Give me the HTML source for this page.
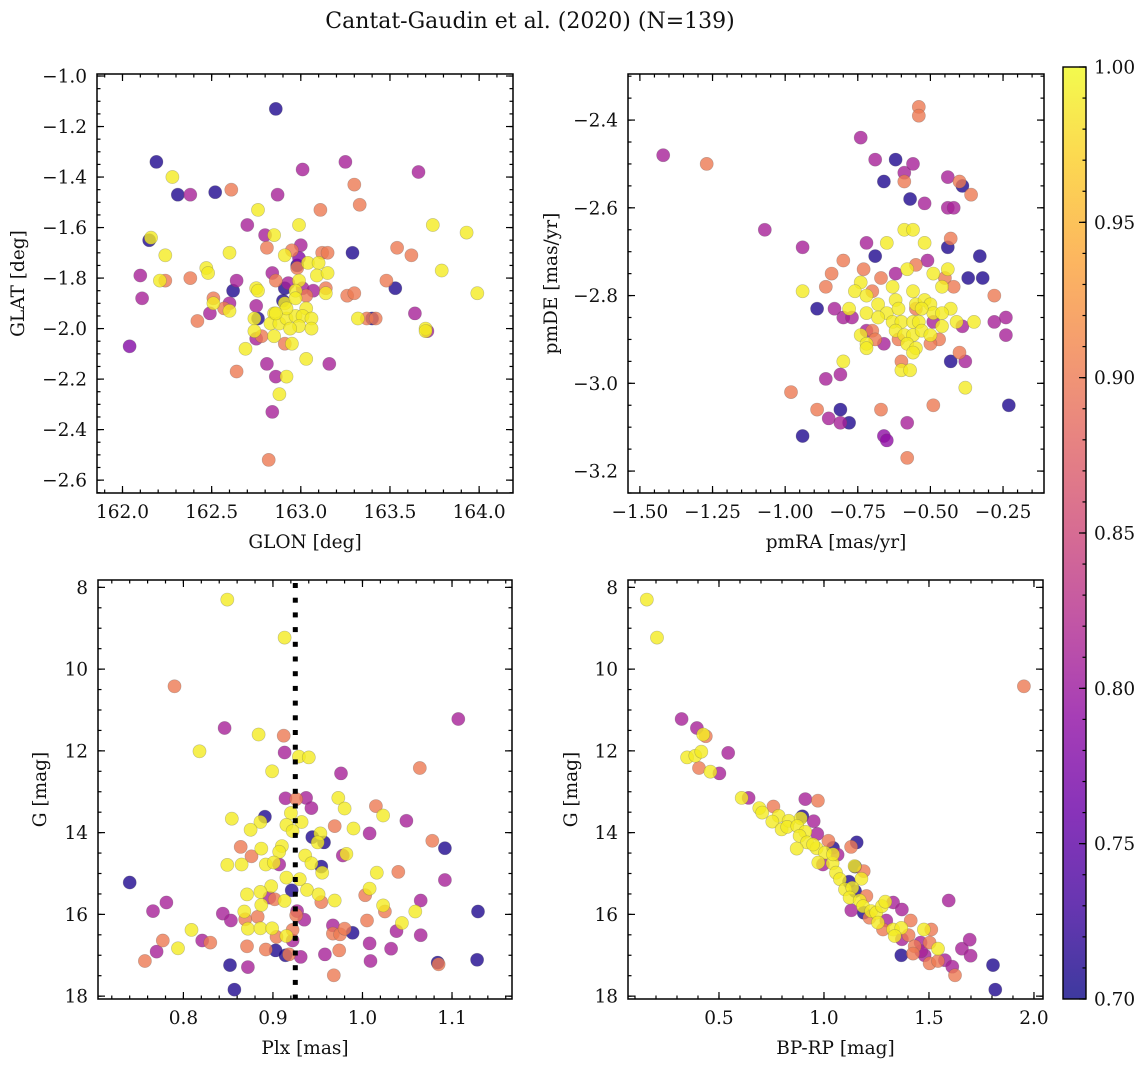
<!DOCTYPE html>
<html><head><meta charset="utf-8"><style>
html,body{margin:0;padding:0;background:#fff;}
svg text{font-family:"DejaVu Serif","Liberation Serif",serif;fill:#111;}
</style></head><body>
<svg id="fig" width="1148" height="1067" viewBox="0 0 1148 1067" xmlns="http://www.w3.org/2000/svg">
<defs>
<linearGradient id="plasma" x1="0" y1="1" x2="0" y2="0">
<stop offset="0" stop-color="#0d0887"/><stop offset="0.1" stop-color="#41049d"/><stop offset="0.2" stop-color="#6a00a8"/><stop offset="0.3" stop-color="#8f0da4"/><stop offset="0.4" stop-color="#b12a90"/><stop offset="0.5" stop-color="#cc4778"/><stop offset="0.6" stop-color="#e16462"/><stop offset="0.7" stop-color="#f2844b"/><stop offset="0.8" stop-color="#fca636"/><stop offset="0.9" stop-color="#fcce25"/><stop offset="1" stop-color="#f0f921"/>
</linearGradient>
</defs>
<text x="530" y="28" text-anchor="middle" font-size="22">Cantat-Gaudin et al. (2020) (N=139)</text>
</svg>
<script>
// ---- data: panel 1 (GLON vs GLAT)
const glon=[162.86,162.19,162.28,162.31,162.38,162.52,162.61,162.87,163.01,163.25,163.66,163.30,163.33,163.11,162.76,162.70,162.99,163.74,163.93,162.15,162.16,162.80,162.85,162.81,163.00,162.95,162.91,162.99,162.98,162.24,162.60,163.29,163.54,163.62,163.12,163.15,163.04,163.10,162.98,162.10,162.47,162.48,162.24,162.21,162.38,162.64,162.84,162.86,163.09,163.15,163.79,163.48,163.53,162.11,162.62,162.75,162.76,162.91,162.93,162.99,162.97,163.01,163.07,163.14,163.14,163.26,163.30,163.99,162.51,162.51,162.60,162.57,162.60,162.75,162.90,162.91,163.03,163.03,162.97,162.49,162.42,162.85,162.76,162.74,162.83,162.88,162.92,162.97,163.01,163.06,162.99,163.06,162.94,163.32,163.37,163.40,163.42,163.64,163.70,163.71,163.70,162.74,162.78,162.75,162.85,162.91,162.95,162.69,163.03,162.81,163.16,162.04,162.64,162.86,162.92,162.88,162.84,162.82,162.92,162.86];
const glat=[-1.13,-1.34,-1.40,-1.47,-1.47,-1.46,-1.45,-1.47,-1.37,-1.34,-1.38,-1.43,-1.51,-1.53,-1.53,-1.59,-1.59,-1.59,-1.62,-1.65,-1.64,-1.63,-1.63,-1.68,-1.67,-1.69,-1.71,-1.72,-1.75,-1.71,-1.70,-1.70,-1.68,-1.71,-1.70,-1.70,-1.74,-1.74,-1.76,-1.79,-1.76,-1.78,-1.81,-1.81,-1.80,-1.81,-1.78,-1.81,-1.79,-1.78,-1.77,-1.81,-1.84,-1.88,-1.85,-1.84,-1.85,-1.84,-1.82,-1.81,-1.85,-1.84,-1.85,-1.84,-1.86,-1.87,-1.86,-1.86,-1.88,-1.90,-1.90,-1.92,-1.93,-1.91,-1.89,-1.90,-1.87,-1.92,-1.88,-1.94,-1.97,-1.94,-1.96,-1.96,-1.98,-1.98,-1.96,-1.95,-1.95,-1.96,-1.99,-2.00,-2.00,-1.96,-1.96,-1.96,-1.96,-1.94,-2.00,-2.01,-2.01,-2.01,-2.03,-2.04,-2.03,-2.06,-2.06,-2.08,-2.12,-2.14,-2.14,-2.07,-2.17,-2.19,-2.19,-2.26,-2.33,-2.52,-1.92,-1.94];
const prob1=[.71,.71,.99,.71,.81,.71,.90,.81,.81,.81,.81,.90,.90,.90,.99,.81,.99,.99,.99,.71,.99,.81,.99,.90,.81,.90,.99,.78,.71,.99,.99,.71,.90,.90,.90,.90,.99,.99,.90,.81,.99,.99,.90,.99,.90,.81,.81,.90,.99,.99,.99,.90,.71,.81,.71,.99,.99,.71,.81,.99,.99,.81,.81,.90,.99,.90,.90,.99,.90,.99,.81,.90,.99,.81,.71,.99,.90,.99,.99,.81,.90,.99,.71,.99,.99,.99,.99,.99,.99,.99,.99,.99,.99,.99,.90,.71,.90,.81,.99,.81,.99,.99,.90,.81,.99,.90,.99,.99,.99,.81,.81,.78,.90,.81,.99,.99,.81,.90,.99,.99];
// ---- data: panel 2 (pmRA vs pmDE)
const pmra=[-1.42,-1.27,-1.07,-0.94,-0.74,-0.69,-0.62,-0.59,-0.56,-0.54,-0.54,-0.59,-0.66,-0.57,-0.52,-0.44,-0.40,-0.39,-0.36,-0.44,-0.42,-0.59,-0.56,-0.65,-0.52,-0.72,-0.69,-0.80,-0.43,-0.44,-0.33,-0.51,-0.55,-0.58,-0.62,-0.73,-0.84,-0.86,-0.67,-0.74,-0.70,-0.76,-0.72,-0.63,-0.56,-0.49,-0.44,-0.45,-0.46,-0.42,-0.37,-0.32,-0.28,-0.94,-0.89,-0.83,-0.80,-0.77,-0.78,-0.72,-0.68,-0.65,-0.62,-0.55,-0.52,-0.50,-0.49,-0.43,-0.46,-0.68,-0.63,-0.60,-0.55,-0.56,-0.54,-0.49,-0.39,-0.41,-0.35,-0.28,-0.24,-0.24,-0.74,-0.72,-0.70,-0.62,-0.59,-0.56,-0.53,-0.46,-0.47,-0.50,-0.50,-0.72,-0.69,-0.66,-0.61,-0.58,-0.55,-0.56,-0.72,-0.80,-0.60,-0.60,-0.57,-0.43,-0.40,-0.38,-0.86,-0.81,-0.98,-0.38,-0.49,-0.89,-0.81,-0.85,-0.81,-0.78,-0.67,-0.58,-0.66,-0.65,-0.94,-0.58,-0.23,-0.61,-0.53];
const pmde=[-2.48,-2.50,-2.65,-2.69,-2.44,-2.49,-2.49,-2.52,-2.50,-2.37,-2.39,-2.54,-2.54,-2.58,-2.59,-2.53,-2.54,-2.55,-2.57,-2.60,-2.60,-2.65,-2.65,-2.68,-2.68,-2.68,-2.71,-2.72,-2.67,-2.69,-2.71,-2.72,-2.73,-2.74,-2.75,-2.74,-2.75,-2.78,-2.76,-2.77,-2.79,-2.79,-2.80,-2.78,-2.79,-2.75,-2.74,-2.76,-2.78,-2.78,-2.76,-2.76,-2.80,-2.79,-2.83,-2.83,-2.85,-2.85,-2.83,-2.84,-2.82,-2.84,-2.81,-2.82,-2.81,-2.82,-2.84,-2.83,-2.84,-2.85,-2.86,-2.86,-2.83,-2.86,-2.86,-2.86,-2.87,-2.86,-2.86,-2.86,-2.85,-2.89,-2.89,-2.88,-2.88,-2.88,-2.89,-2.89,-2.88,-2.87,-2.90,-2.91,-2.89,-2.91,-2.90,-2.91,-2.90,-2.91,-2.92,-2.93,-2.92,-2.95,-2.95,-2.97,-2.97,-2.95,-2.93,-2.95,-2.99,-2.98,-3.02,-3.01,-3.05,-3.06,-3.06,-3.08,-3.09,-3.09,-3.06,-3.09,-3.12,-3.13,-3.12,-3.17,-3.05,-2.83,-2.83];
const prob2=[.81,.90,.81,.81,.81,.81,.71,.81,.81,.90,.90,.90,.71,.71,.81,.81,.90,.71,.90,.81,.81,.99,.99,.99,.99,.81,.71,.90,.90,.71,.71,.81,.90,.99,.81,.90,.90,.90,.90,.99,.90,.99,.99,.99,.99,.99,.99,.90,.99,.90,.71,.71,.90,.99,.71,.81,.81,.81,.99,.99,.99,.99,.99,.99,.99,.99,.99,.99,.99,.99,.99,.99,.90,.99,.99,.81,.81,.99,.99,.81,.81,.81,.99,.81,.90,.99,.99,.99,.99,.99,.90,.90,.99,.99,.90,.81,.90,.99,.99,.99,.99,.99,.90,.99,.99,.71,.90,.81,.81,.81,.90,.99,.90,.90,.71,.81,.81,.71,.90,.81,.79,.79,.71,.90,.71,.99,.99];
// ---- data: panel 3 (Plx vs G)
const plx=[0.849,0.913,0.790,1.107,0.846,0.884,0.912,0.818,0.913,0.929,0.940,0.899,0.976,1.064,0.914,0.926,0.937,0.943,0.973,0.980,1.015,1.023,1.049,0.854,0.891,0.886,0.875,0.920,0.915,0.932,0.922,0.969,0.990,1.008,0.944,0.953,0.957,0.950,1.078,1.092,0.864,0.887,0.910,0.907,0.876,0.936,0.978,0.982,0.849,0.865,0.892,0.901,0.907,0.943,0.954,0.955,1.016,1.040,1.092,0.740,0.915,0.930,0.898,0.886,0.871,0.896,0.902,0.913,0.921,0.938,0.951,0.954,0.969,1.003,1.008,1.023,1.025,1.065,0.781,0.766,0.887,0.868,0.844,0.853,0.869,0.883,0.927,0.926,0.935,1.059,1.129,1.044,1.005,1.038,0.809,0.872,0.886,0.899,0.922,0.915,0.904,0.922,0.967,0.967,0.975,0.980,0.989,1.065,0.777,0.821,0.830,0.794,0.770,0.757,0.871,0.892,0.903,0.914,0.918,0.931,0.958,0.974,1.008,1.032,1.009,1.084,1.085,1.128,0.852,0.872,0.968,0.857];
const gmag3=[8.30,9.23,10.42,11.22,11.44,11.60,11.63,12.01,12.04,12.14,12.16,12.50,12.55,12.42,13.16,13.18,13.15,13.40,13.15,13.41,13.35,13.58,13.71,13.66,13.61,13.74,13.93,13.52,13.81,13.74,13.96,13.84,13.90,14.02,14.11,14.02,14.24,14.24,14.20,14.38,14.35,14.39,14.33,14.47,14.58,14.56,14.56,14.52,14.79,14.78,14.78,14.73,14.78,14.75,14.83,14.98,14.98,14.96,15.16,15.22,15.10,15.14,15.31,15.45,15.51,15.59,15.63,15.67,15.41,15.40,15.51,15.70,15.66,15.53,15.37,15.78,15.93,15.66,15.71,15.92,15.77,15.93,15.98,16.15,16.12,16.06,15.92,16.02,16.13,15.93,15.93,16.21,16.15,16.41,16.38,16.35,16.34,16.34,16.38,16.53,16.55,16.64,16.27,16.47,16.49,16.35,16.45,16.51,16.64,16.64,16.69,16.83,16.91,17.14,16.78,16.86,16.88,17.00,16.98,17.04,16.98,16.88,16.71,16.84,17.14,17.18,17.22,17.11,17.24,17.29,17.49,17.84];
const prob3=[.99,.99,.90,.81,.81,.99,.90,.99,.81,.99,.99,.99,.81,.90,.81,.90,.81,.81,.99,.99,.90,.99,.81,.99,.71,.99,.99,.99,.99,.99,.99,.90,.99,.81,.71,.99,.71,.99,.90,.71,.90,.99,.99,.99,.90,.99,.81,.99,.99,.99,.99,.99,.81,.99,.71,.99,.99,.90,.81,.71,.99,.99,.99,.99,.99,.81,.90,.99,.71,.99,.99,.90,.99,.90,.99,.99,.90,.81,.81,.81,.99,.99,.81,.81,.90,.90,.81,.90,.81,.99,.71,.99,.90,.81,.99,.99,.99,.99,.90,.99,.90,.81,.81,.90,.90,.90,.71,.81,.90,.81,.90,.99,.81,.90,.90,.90,.71,.71,.90,.81,.81,.90,.81,.81,.81,.71,.90,.71,.71,.81,.90,.71];
// ---- data: panel 4 (BP-RP vs G)
const bprp=[0.156,0.205,1.952,0.322,0.395,0.437,0.425,0.544,0.348,0.387,0.416,0.405,0.459,0.502,0.608,0.641,0.911,0.971,0.692,0.706,0.759,0.784,0.754,0.798,0.832,0.825,0.897,0.889,0.951,0.873,0.911,0.968,0.884,0.919,0.870,0.965,1.021,1.043,1.005,1.065,1.129,1.156,0.973,0.995,1.041,1.057,1.076,1.119,1.100,1.148,1.146,1.189,1.178,1.135,1.148,1.122,1.170,1.202,1.186,1.130,1.189,1.225,1.249,1.276,1.292,1.329,1.371,1.217,1.257,1.297,1.281,1.329,1.368,1.337,1.413,1.476,1.511,1.371,1.403,1.432,1.460,1.503,1.543,1.424,1.368,1.479,1.503,1.543,1.576,1.611,1.624,1.657,1.694,1.698,1.594,1.805,1.816,1.463,0.948,1.043];
const gmag4=[8.30,9.23,10.42,11.22,11.44,11.64,11.60,12.05,12.16,12.12,12.02,12.42,12.51,12.55,13.15,13.15,13.18,13.22,13.40,13.51,13.36,13.59,13.73,13.92,13.71,13.86,13.60,13.65,13.72,13.84,13.98,14.03,14.08,14.24,14.39,14.38,14.20,14.37,14.49,14.54,14.35,14.24,14.73,14.78,14.75,14.98,15.14,15.20,15.39,14.83,14.82,14.94,15.13,15.35,15.43,15.59,15.66,15.55,15.80,15.90,15.96,15.92,15.96,15.80,15.69,15.71,15.88,16.08,16.20,16.15,16.37,16.37,16.33,16.53,16.15,16.37,16.37,16.61,16.51,16.78,16.69,16.69,16.84,16.96,17.00,17.00,17.20,17.14,17.12,17.28,17.49,16.84,16.62,17.01,15.66,17.24,17.84,16.90,14.29,14.53];
const prob4=[.99,.99,.90,.81,.81,.90,.99,.81,.99,.99,.99,.90,.99,.81,.99,.81,.81,.90,.99,.99,.90,.99,.99,.99,.99,.99,.71,.99,.81,.99,.99,.81,.99,.99,.99,.99,.90,.71,.99,.81,.90,.71,.99,.81,.99,.99,.99,.71,.99,.71,.99,.90,.99,.99,.71,.99,.99,.90,.99,.81,.71,.99,.99,.99,.99,.81,.81,.90,.99,.81,.90,.99,.99,.99,.90,.99,.90,.81,.90,.90,.81,.90,.99,.90,.71,.81,.90,.90,.81,.81,.90,.81,.81,.81,.81,.71,.71,.81,.99,.99];
// ---- tick labels
const p1xTicks=[162.0,162.5,163.0,163.5,164.0];
const p1yTicks=[-1.0,-1.2,-1.4,-1.6,-1.8,-2.0,-2.2,-2.4,-2.6];
const p2xTicks=[-1.50,-1.25,-1.00,-0.75,-0.50,-0.25];
const p2yTicks=[-2.4,-2.6,-2.8,-3.0,-3.2];
const p3xTicks=[0.8,0.9,1.0,1.1];
const gTicks=[8,10,12,14,16,18];
const p4xTicks=[0.5,1.0,1.5,2.0];
const cbTicks=[0.70,0.75,0.80,0.85,0.90,0.95,1.00];
const plxMedian=0.925;

const NS="http://www.w3.org/2000/svg";
const svg=document.getElementById('fig');
const FS=18.5;
function mk(tag,attrs,parent){const e=document.createElementNS(NS,tag);for(const k in attrs)e.setAttribute(k,attrs[k]);(parent||svg).appendChild(e);return e;}
const stops=[[0,13,8,135],[.1,65,4,157],[.2,106,0,168],[.3,143,13,164],[.4,177,42,144],[.5,204,71,120],[.6,225,100,98],[.7,242,132,75],[.8,252,166,54],[.9,252,206,37],[1,240,249,33]];
function plasma(v){let t=Math.max(0,Math.min(1,(v-0.7)/0.3));for(let i=1;i<stops.length;i++){if(t<=stops[i][0]){const a=stops[i-1],b=stops[i],f=(t-a[0])/(b[0]-a[0]);return `rgb(${Math.round(a[1]+f*(b[1]-a[1]))},${Math.round(a[2]+f*(b[2]-a[2]))},${Math.round(a[3]+f*(b[3]-a[3]))})`;}}return 'rgb(240,249,33)';}
function fmt(v,d){return (v<0?'\u2212':'')+Math.abs(v).toFixed(d);}

function panel(o){
  const g=mk('g',{});
  
  
  const sx=v=>o.x0+(v-o.xd[0])/(o.xd[1]-o.xd[0])*(o.x1-o.x0);
  const Y=o.inv?(v=>o.y0+(v-o.yd[0])/(o.yd[1]-o.yd[0])*(o.y1-o.y0)):(v=>o.y1-(v-o.yd[0])/(o.yd[1]-o.yd[0])*(o.y1-o.y0));
  const idx=o.xs.map((_,i)=>i).sort((a,b)=>o.cs[a]-o.cs[b]);
  const pg=mk('g',{},g);
  
  
  idx.forEach(i=>{
    const c=mk('circle',{cx:sx(o.xs[i]).toFixed(1),cy:Y(o.ys[i]).toFixed(1),r:6.6,fill:plasma(o.cs[i]),'fill-opacity':0.8,stroke:'#555','stroke-opacity':0.35,'stroke-width':0.6},pg);
    
    
  });
  if(o.vline!==undefined){
    const lg=mk('g',{fill:'#000'},g);
    
    
    const vx=sx(o.vline);
    for(let y=o.y0+3;y<o.y1;y+=14.7){
      mk('rect',{x:(vx-2.5).toFixed(1),y:y.toFixed(1),width:5,height:Math.min(5,o.y1-y)},lg);
    }
  }
  const fr=mk('rect',{x:o.x0,y:o.y0,width:o.x1-o.x0,height:o.y1-o.y0,fill:'none',stroke:'#000','stroke-width':1.5},g);
  
  
  const tk=mk('g',{stroke:'#000','stroke-width':1.2},g);
  for(let v=Math.ceil(o.xd[0]/o.xm-1e-6)*o.xm;v<=o.xd[1];v+=o.xm){const x=sx(v);mk('line',{x1:x,x2:x,y1:o.y1,y2:o.y1-3.5},tk);mk('line',{x1:x,x2:x,y1:o.y0,y2:o.y0+3.5},tk);}
  const lo=Math.min(o.yd[0],o.yd[1]),hi=Math.max(o.yd[0],o.yd[1]);
  for(let v=Math.ceil(lo/o.ym-1e-6)*o.ym;v<=hi;v+=o.ym){const y=Y(v);mk('line',{x1:o.x0,x2:o.x0+3.5,y1:y,y2:y},tk);mk('line',{x1:o.x1,x2:o.x1-3.5,y1:y,y2:y},tk);}
  o.xt.forEach(v=>{const x=sx(v);mk('line',{x1:x,x2:x,y1:o.y1,y2:o.y1-7},tk);mk('line',{x1:x,x2:x,y1:o.y0,y2:o.y0+7},tk);
    const t=mk('text',{x:x,y:o.y1+25,'text-anchor':'middle','font-size':FS},g);t.textContent=fmt(v,o.xdp);
    });
  o.yt.forEach(v=>{const y=Y(v);mk('line',{x1:o.x0,x2:o.x0+7,y1:y,y2:y},tk);mk('line',{x1:o.x1,x2:o.x1-7,y1:y,y2:y},tk);
    const t=mk('text',{x:o.x0-10,y:y+6.5,'text-anchor':'end','font-size':FS},g);t.textContent=fmt(v,o.ydp);
    });
  const xl=mk('text',{x:(o.x0+o.x1)/2,y:o.y1+55,'text-anchor':'middle','font-size':FS},g);xl.textContent=o.xlab;
  
  const cy=(o.y0+o.y1)/2;
  const yl=mk('text',{x:o.ylx,y:cy,'text-anchor':'middle','font-size':FS,transform:`rotate(-90 ${o.ylx} ${cy})`},g);yl.textContent=o.ylab;
  
}
panel({name:'glon-glat-panel',x0:97,x1:513,y0:74,y1:493,xd:[161.857,164.19],yd:[-2.651,-0.992],xs:glon,ys:glat,cs:prob1,xt:p1xTicks,yt:p1yTicks,xm:0.1,ym:0.05,xdp:1,ydp:1,xlab:'GLON [deg]',ylab:'GLAT [deg]',ylx:24});
panel({name:'proper-motion-panel',x0:628,x1:1044,y0:74,y1:493,xd:[-1.541,-0.109],yd:[-3.25,-2.295],xs:pmra,ys:pmde,cs:prob2,xt:p2xTicks,yt:p2yTicks,xm:0.05,ym:0.05,xdp:2,ydp:1,xlab:'pmRA [mas/yr]',ylab:'pmDE [mas/yr]',ylx:557});
panel({name:'parallax-magnitude-panel',x0:98,x1:512,y0:580,y1:999,xd:[0.7046,1.167],yd:[7.82,18.07],inv:true,xs:plx,ys:gmag3,cs:prob3,xt:p3xTicks,yt:gTicks,xm:0.02,ym:0.5,xdp:1,ydp:0,xlab:'Plx [mas]',ylab:'G [mag]',ylx:46,vline:plxMedian});
panel({name:'color-magnitude-panel',x0:628,x1:1043,y0:580,y1:999,xd:[0.0667,2.043],yd:[7.82,18.07],inv:true,xs:bprp,ys:gmag4,cs:prob4,xt:p4xTicks,yt:gTicks,xm:0.1,ym:0.5,xdp:1,ydp:0,xlab:'BP-RP [mag]',ylab:'G [mag]',ylx:577});

const cb=mk('g',{});


const cbx0=1063,cbx1=1086,cby0=67,cby1=999;
mk('rect',{x:cbx0,y:cby0,width:cbx1-cbx0,height:cby1-cby0,fill:'url(#plasma)','fill-opacity':0.8},cb);
mk('rect',{x:cbx0,y:cby0,width:cbx1-cbx0,height:cby1-cby0,fill:'none',stroke:'#000','stroke-width':1.4},cb);
const cbY=v=>cby1-(v-0.7)/0.3*(cby1-cby0);
for(let k=0;k<=30;k++){const v=0.7+k*0.01,y=cbY(v);mk('line',{x1:cbx1,x2:cbx1-3.5,y1:y,y2:y,stroke:'#000','stroke-width':1.2},cb);}
cbTicks.forEach(v=>{const y=cbY(v);mk('line',{x1:cbx1,x2:cbx1-7,y1:y,y2:y,stroke:'#000','stroke-width':1.2},cb);
  const t=mk('text',{x:cbx1+8,y:y+6.5,'font-size':FS},cb);t.textContent=v.toFixed(2);
  });
</script>
</body></html>
